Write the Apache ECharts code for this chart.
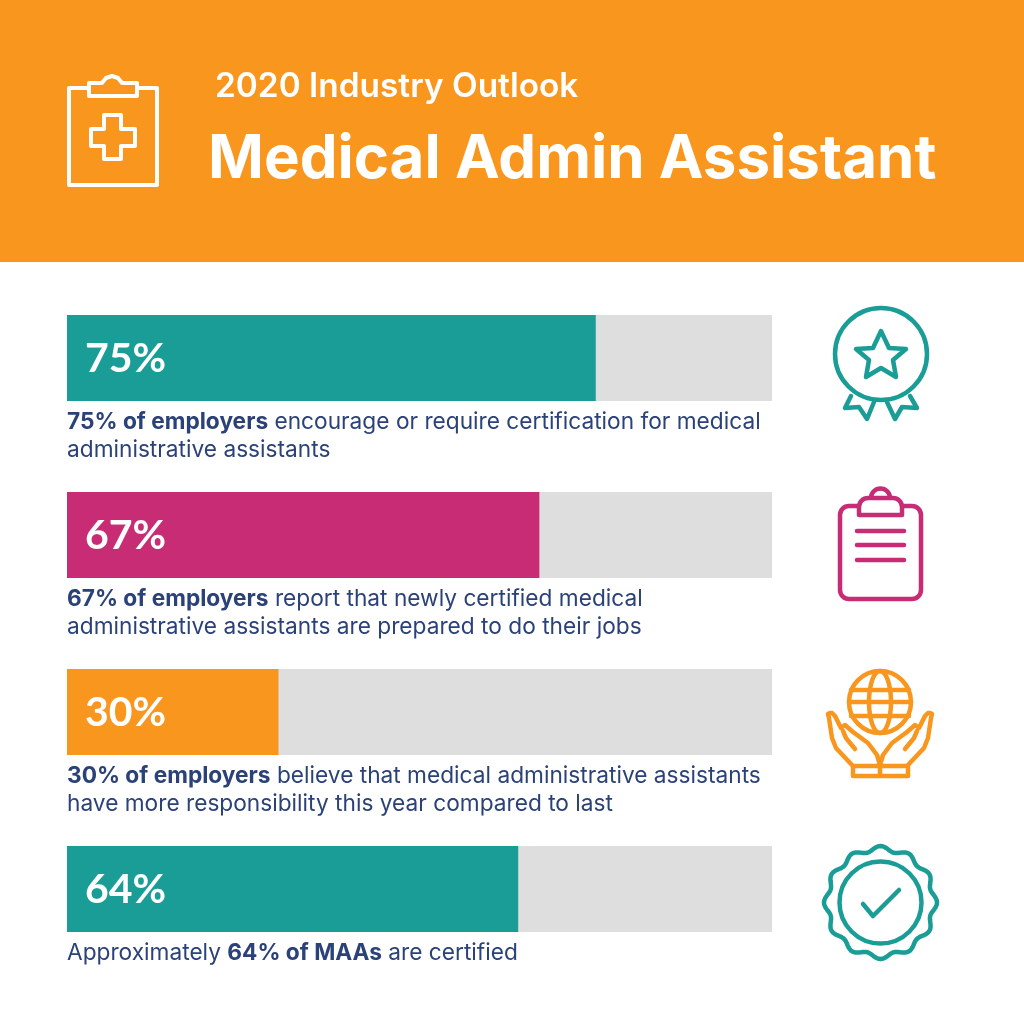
<!DOCTYPE html>
<html>
<head>
<meta charset="utf-8">
<title>Medical Admin Assistant</title>
<style>
  html, body { margin: 0; padding: 0; background: #fff; }
  #chart { width: 1024px; height: 1024px; }
</style>
<script src="https://cdn.jsdelivr.net/npm/echarts@6/dist/echarts.min.js"></script>
</head>
<body>
<div id="chart"></div>
<script>
// 数据
const categories = ["certification", "prepared", "responsibility", "certified"];
const percentValues = [75, 67, 30, 64];
const titleText = "Medical Admin Assistant";
const subtitleText = "2020 Industry Outlook";
const captionLines = [
  ["{b|75% of employers} encourage or require certification for medical", "administrative assistants"],
  ["{b|67% of employers} report that newly certified medical", "administrative assistants are prepared to do their jobs"],
  ["{b|30% of employers} believe that medical administrative assistants", "have more responsibility this year compared to last"],
  ["Approximately {b|64% of MAAs} are certified"]
];

const TEAL = "#1a9d96";
const PINK = "#c72c74";
const ORANGE = "#f9961e";
const NAVY = "#2b4278";
const barColors = [TEAL, PINK, ORANGE, TEAL];
const FONT = "Inter";

// 图标线条
const line = (color, w) => ({ fill: null, stroke: color, lineWidth: w || 4.5, lineCap: "round", lineJoin: "round" });
const poly = (points, color, w) => ({ type: "polyline", shape: { points }, style: line(color, w) });
const closed = (points, color, w) => ({ type: "polygon", shape: { points }, style: line(color, w) });
const circle = (cx, cy, r, color) => ({ type: "circle", shape: { cx, cy, r }, style: line(color) });
const rect = (x, y, width, height, r, color) => ({ type: "rect", shape: { x, y, width, height, r }, style: line(color) });

function headerIcon() {
  const c = "#fff";
  return [
    poly([[88, 88], [69, 88], [69, 185], [157, 185], [157, 88], [138, 88]], c, 4),
    closed([[89, 83], [102, 83], [106, 78], [112, 76], [118, 78], [122, 83], [137, 83], [137, 96], [89, 96]], c, 4),
    closed([[104, 115], [121, 115], [121, 129], [135, 129], [135, 146], [121, 146], [121, 159], [104, 159], [104, 146], [91, 146], [91, 129], [104, 129]], c, 4)
  ];
}

function medalIcon() {
  return [
    circle(881, 354, 46, TEAL),
    closed([[881, 331], [889, 348], [906, 349], [893, 360], [896, 377], [881, 368], [866, 377], [869, 360], [856, 349], [873, 348]], TEAL),
    poly([[851, 396], [845, 408], [859, 407], [867, 419], [874, 402]], TEAL),
    poly([[910, 396], [917, 408], [902, 407], [895, 419], [887, 402]], TEAL)
  ];
}

function clipboardIcon() {
  return [
    { type: "arc", shape: { cx: 880.5, cy: 498, r: 9.5, startAngle: Math.PI, endAngle: Math.PI * 2 }, style: line(PINK) },
    rect(840, 506, 81, 93, 9, PINK),
    { type: "rect", shape: { x: 859, y: 498, width: 43, height: 17, r: [9, 9, 0, 0] }, style: { ...line(PINK), fill: "#fff" } },
    poly([[857, 531], [904, 531]], PINK),
    poly([[857, 545], [904, 545]], PINK),
    poly([[857, 560], [904, 560]], PINK)
  ];
}

function globeIcon() {
  const cx = 880;
  const leftHand = [[852, 765], [836, 748], [832, 738], [829, 718], [828, 714], [830, 713], [832, 713], [835, 716], [841, 728], [845, 725], [853, 732], [868, 743], [877, 755], [880, 765]];
  const leftFinger = [[843, 731], [846, 738], [855, 749]];
  const mirror = pts => pts.map(p => [2 * cx - p[0], p[1]]);
  return [
    circle(cx, 702, 31, ORANGE),
    { type: "ellipse", shape: { cx, cy: 702, rx: 11, ry: 31 }, style: line(ORANGE) },
    poly([[851, 690], [909, 690]], ORANGE),
    poly([[849, 702], [911, 702]], ORANGE),
    poly([[851, 716], [909, 716]], ORANGE),
    poly(leftHand, ORANGE),
    poly(mirror(leftHand), ORANGE),
    poly(leftFinger, ORANGE),
    poly(mirror(leftFinger), ORANGE),
    rect(853, 766, 55, 10, 0, ORANGE),
    poly([[880, 766], [880, 776]], ORANGE)
  ];
}

function badgeIcon() {
  // 波浪外圈，12个波峰
  const pts = [];
  for (let i = 0; i < 240; i++) {
    const a = (i / 240) * Math.PI * 2 - Math.PI / 2;
    const r = 54 + 2.5 * Math.cos(12 * (a + Math.PI / 2));
    pts.push([880.5 + r * Math.cos(a), 902.5 + r * Math.sin(a)]);
  }
  return [
    closed(pts, TEAL),
    circle(880.5, 902.5, 41, TEAL),
    poly([[863, 904], [873, 916], [899, 890]], TEAL)
  ];
}

function captionTexts() {
  const out = [];
  captionLines.forEach((lines, i) => {
    lines.forEach((text, j) => {
      out.push({
        type: "text",
        x: 67,
        y: 422 + i * 177 + j * 28,
        style: {
          text,
          fill: NAVY,
          font: "400 22.7px " + FONT,
          verticalAlign: "middle",
          rich: { b: { fontFamily: FONT, fontWeight: 700, fontSize: 22.7, fill: NAVY, color: NAVY } }
        }
      });
    });
  });
  return out;
}

const chart = echarts.init(document.getElementById("chart"), null, { renderer: "canvas" });

chart.setOption({
  animation: false,
  backgroundColor: "#fff",
  grid: { left: 67, top: 269.5, width: 705, height: 708, containLabel: false },
  xAxis: { type: "value", min: 0, max: 100, show: false },
  yAxis: { type: "category", data: categories, inverse: true, show: false },
  series: [
    {
      type: "bar",
      barWidth: 86,
      showBackground: true,
      backgroundStyle: { color: "#dedede" },
      data: percentValues.map((value, i) => ({ value, itemStyle: { color: barColors[i] } })),
      label: {
        show: true,
        position: "insideLeft",
        distance: 18,
        offset: [0, 1],
        formatter: "{c}%",
        color: "#fff",
        fontFamily: "Lato",
        fontWeight: 700,
        fontSize: 41
      }
    }
  ],
  graphic: {
    elements: [
      { type: "rect", z: -1, shape: { x: 0, y: 0, width: 1024, height: 262 }, style: { fill: ORANGE } },
      { type: "text", x: 215, y: 87, style: { text: subtitleText, fill: "#fff", font: "600 33.4px " + FONT, verticalAlign: "middle" } },
      { type: "text", x: 208, y: 160, style: { text: titleText, fill: "#fff", font: "700 60px " + FONT, verticalAlign: "middle" } },
      ...headerIcon(),
      ...medalIcon(),
      ...clipboardIcon(),
      ...globeIcon(),
      ...badgeIcon(),
      ...captionTexts()
    ]
  }
});
</script>
</body>
</html>
